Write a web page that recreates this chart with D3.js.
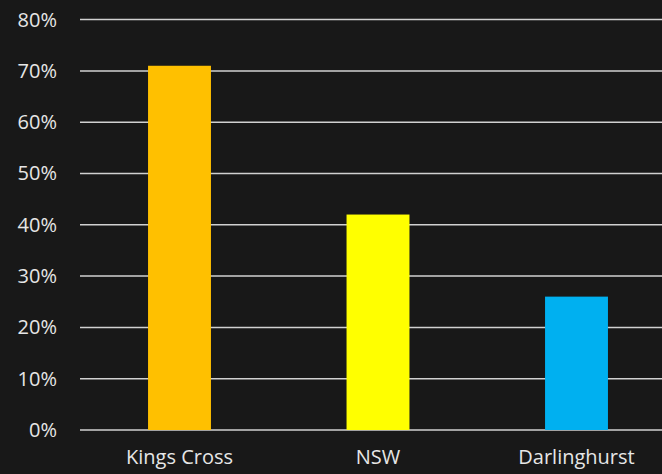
<!DOCTYPE html>
<html><head><meta charset="utf-8">
<script src="https://cdn.jsdelivr.net/npm/d3@7"></script>
<style>html,body{margin:0;padding:0;background:#181818;overflow:hidden}</style>
</head><body>
<svg id="c" width="662" height="474"></svg>
<script>
const categories = ["Kings Cross", "NSW", "Darlinghurst"];
const values = [0.71, 0.42, 0.26];
const colors = ["#FFC000", "#FFFF00", "#00B0F0"];
const yTicks = [0, 0.1, 0.2, 0.3, 0.4, 0.5, 0.6, 0.7, 0.8];

const svg = d3.select("#c");
svg.append("rect").attr("width", 662).attr("height", 474).attr("fill", "#181818");
const font = "'Open Sans', sans-serif";
const x = d3.scaleBand().domain(categories).range([80.25, 675.75]).paddingInner(0.683).paddingOuter(0.3415);
const y = d3.scaleLinear().domain([0, 0.8]).range([430, 19.6]);

const yAxis = d3.axisLeft(y).tickValues(yTicks).tickFormat(d3.format(".0%")).tickSize(0).tickPadding(23);
const gy = svg.append("g").attr("transform", "translate(80,0)").call(yAxis);
gy.select(".domain").remove();
gy.selectAll("text").attr("fill", "#e6e6e6").style("font-family", font).style("font-size", "20px");

svg.append("g").selectAll("line").data(yTicks).join("line")
  .attr("x1", 80).attr("x2", 662)
  .attr("y1", d => y(d)).attr("y2", d => y(d))
  .attr("stroke", "#d0d0d0").attr("stroke-width", 1.5);

svg.append("g").selectAll("rect").data(values).join("rect")
  .attr("x", (d, i) => x(categories[i]))
  .attr("width", x.bandwidth())
  .attr("y", d => y(d))
  .attr("height", d => y(0) - y(d))
  .attr("fill", (d, i) => colors[i]);

const xAxis = d3.axisBottom(x).tickSize(0).tickPadding(20);
const gx = svg.append("g").attr("transform", "translate(0,430)").call(xAxis);
gx.select(".domain").remove();
gx.selectAll("text").attr("fill", "#e6e6e6").style("font-family", font).style("font-size", "20px");
</script>
</body></html>
